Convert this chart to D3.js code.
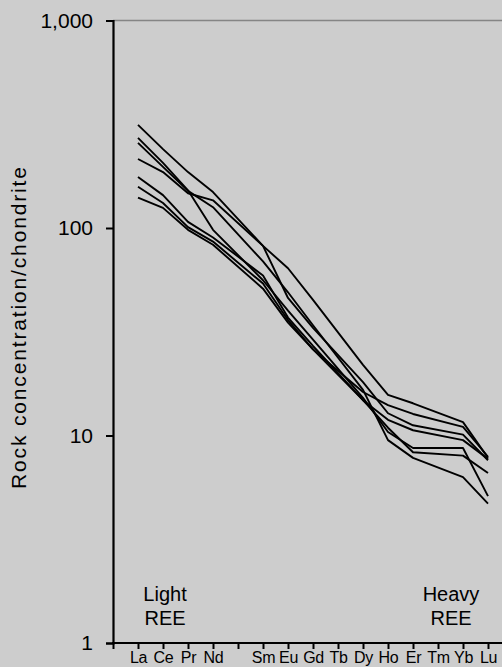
<!DOCTYPE html>
<html>
<head>
<meta charset="utf-8">
<script src="https://cdn.jsdelivr.net/npm/d3@7"></script>
<style>
  body { margin: 0; background: #cdcdcd; }
  svg { display: block; font-family: "Liberation Sans", Arial, sans-serif; }
</style>
</head>
<body>
<div id="chart"></div>
<script>
var width = 502,
    height = 667;

// tick slots along the x axis; "_" is the slot at the y axis, Pm has no data
var tickSlots = ["_", "La", "Ce", "Pr", "Nd", "Pm", "Sm", "Eu", "Gd", "Tb", "Dy", "Ho", "Er", "Tm", "Yb", "Lu"];
var elements = ["La", "Ce", "Pr", "Nd", "Sm", "Eu", "Gd", "Tb", "Dy", "Ho", "Er", "Tm", "Yb", "Lu"];
var yTicks = [1, 10, 100, 1000];

// chondrite-normalised values, one array per sample (null = not analysed)
var sample1 = [314, 240, 186, 149, 82, 64, 45, null, 21.9, 15.7, 14.3, null, 11.6, 7.8];
var sample2 = [272, 206, 152, 98, 56, 40, 29, null, 15.2, 10.4, 8.7, null, 8.7, 5.1];
var sample3 = [257, 197, 151, 126, 69, 49, 34, null, 16.6, 9.5, 7.8, null, 6.3, 4.7];
var sample4 = [215, 186, 147, 136, 82, 46, 33, null, 18.1, 12.8, 11.2, null, 10.1, 7.6];
var sample5 = [176, 144, 107, 90, 59, 37, 27, null, 14.8, 11.9, 10.6, null, 9.5, 7.7];
var sample6 = [158, 132, 101, 86, 54, 36, 26, null, 16.2, 14.0, 12.7, null, 11.0, 7.9];
var sample7 = [140, 125, 98, 83, 51, 35, 26, null, 14.8, 10.9, 8.3, null, 8.0, 6.6];

var samples = [sample1, sample2, sample3, sample4, sample5, sample6, sample7];

var x = d3.scalePoint()
    .domain(tickSlots)
    .range([113, 488]);

var y = d3.scaleLog()
    .domain([1, 1000])
    .range([643, 20.5]);

var svg = d3.select("#chart").append("svg")
    .attr("width", width)
    .attr("height", height);

// top frame line
svg.append("line")
    .attr("x1", x("_")).attr("x2", width)
    .attr("y1", y(1000)).attr("y2", y(1000))
    .attr("stroke", "#858585")
    .attr("stroke-width", 1.6);

var line = d3.line()
    .x(function(d) { return x(d.el); })
    .y(function(d) { return y(d.v); });

svg.selectAll(".ree")
    .data(samples.map(function(s) {
      return elements.map(function(el, i) { return {el: el, v: s[i]}; })
        .filter(function(d) { return d.v != null; });
    }))
  .enter().append("path")
    .attr("class", "ree")
    .attr("fill", "none")
    .attr("stroke", "#000")
    .attr("stroke-width", 1.9)
    .attr("stroke-linejoin", "round")
    .attr("d", line);

// x axis
var xAxis = svg.append("g")
    .attr("transform", "translate(0," + y(1) + ")")
    .call(d3.axisBottom(x)
      .tickSize(6)
      .tickPadding(3)
      .tickFormat(function(d) { return (d == "_" || d == "Pm") ? "" : d; }));
xAxis.select(".domain").remove();
xAxis.append("line")
    .attr("x1", x("_") - 1).attr("x2", width)
    .attr("stroke", "#000").attr("stroke-width", 2);
xAxis.selectAll(".tick line").attr("stroke-width", 2);
xAxis.selectAll("text")
    .attr("font-size", 16)
    .attr("fill", "#000")
    .attr("letter-spacing", -0.3)
    .style("font-family", "'Liberation Sans', Arial, sans-serif");

// y axis
var yAxis = svg.append("g")
    .attr("transform", "translate(" + x("_") + ",0)")
    .call(d3.axisLeft(y)
      .tickValues(yTicks)
      .tickSize(7)
      .tickPadding(13)
      .tickFormat(d3.format(",")));
yAxis.select(".domain").attr("stroke-width", 2.2);
yAxis.selectAll(".tick line").attr("stroke-width", 2);
yAxis.selectAll("text")
    .attr("font-size", 21)
    .attr("fill", "#000")
    .style("font-family", "'Liberation Sans', Arial, sans-serif");

svg.append("text")
    .attr("transform", "translate(18,328) rotate(-90)")
    .attr("text-anchor", "middle")
    .attr("dominant-baseline", "central")
    .attr("font-size", 21)
    .attr("textLength", 322)
    .attr("lengthAdjust", "spacing")
    .text("Rock concentration/chondrite");

// group notes
var notes = [
  {lines: ["Light", "REE"], cx: 165},
  {lines: ["Heavy", "REE"], cx: 451}
];
notes.forEach(function(n) {
  n.lines.forEach(function(t, i) {
    svg.append("text")
      .attr("x", n.cx)
      .attr("y", 601 + i * 24)
      .attr("text-anchor", "middle")
      .attr("font-size", 20)
      .text(t);
  });
});
</script>
</body>
</html>
